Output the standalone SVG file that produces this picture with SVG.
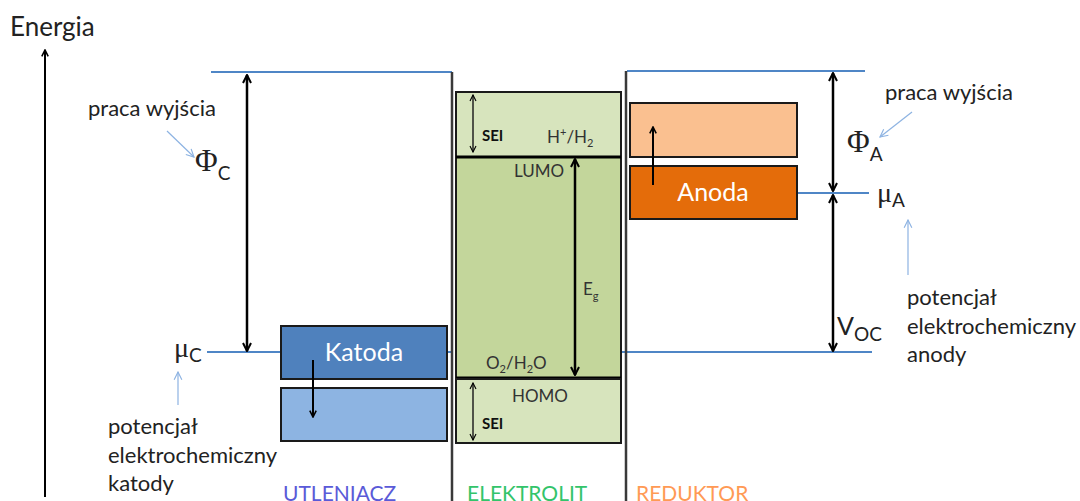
<svg xmlns="http://www.w3.org/2000/svg" width="1080" height="501" viewBox="0 0 1080 501">
<defs>
<marker id="ah" viewBox="0 0 10 10" refX="9" refY="5" markerWidth="4" markerHeight="4" orient="auto-start-reverse" markerUnits="strokeWidth">
<path d="M1,1 L9,5 L1,9" fill="none" stroke="#000" stroke-width="2"/>
</marker>
<marker id="ahs" viewBox="0 0 10 10" refX="9" refY="5" markerWidth="5" markerHeight="5" orient="auto-start-reverse" markerUnits="strokeWidth">
<path d="M1,1 L9,5 L1,9" fill="none" stroke="#000" stroke-width="1.5"/>
</marker>
<marker id="ahb" viewBox="0 0 10 10" refX="9" refY="5" markerWidth="8" markerHeight="8" orient="auto" markerUnits="strokeWidth">
<path d="M1,1 L9,5 L1,9" fill="none" stroke="#8db3e2" stroke-width="1.2"/>
</marker>
</defs>
<style>
.t{font-family:Lato,"Liberation Sans",sans-serif;fill:#222}
.lbl{font-size:22px}
.sm{font-size:17px;fill:#333}
.b{font-weight:bold;font-size:15px}
.sym{font-family:"Liberation Serif",serif;fill:#222}
.box{stroke:#1a1a1a;stroke-width:2}
.lvl{stroke:#4f86c6;stroke-width:2;fill:none}
.sep{stroke:#3a3a3a;stroke-width:2.5;fill:none}
.arr{stroke:#000;stroke-width:2.5;fill:none}
.arrs{stroke:#222;stroke-width:1.5;fill:none}
.barr{stroke:#8db3e2;stroke-width:1.2;fill:none}
.wt{font-family:Lato,"Liberation Sans",sans-serif;fill:#fff;font-size:25px}
.reg{font-family:Lato,"Liberation Sans",sans-serif;font-size:21px}
</style>

<g id="axis">
<line x1="45" y1="497" x2="45" y2="50" class="arr" style="stroke-width:2" marker-end="url(#ah)"/>
<text x="10" y="36" class="t" style="font-size:26px">Energia</text>
</g>

<g id="levels">
<polyline points="211,72 452,72" class="lvl"/>
<polyline points="627,71 865,71" class="lvl"/>
<polyline points="207,352 452,352" class="lvl"/>
<polyline points="622,352 872,352" class="lvl"/>
<polyline points="797,193 869,193" class="lvl"/>
</g>

<g id="separators">
<line x1="452" y1="72" x2="452" y2="501" class="sep"/>
<line x1="626" y1="71" x2="626" y2="501" class="sep"/>
</g>

<g id="katoda">
<rect x="281" y="326" width="166" height="53" fill="#4f81bd" class="box"/>
<text x="364" y="361" text-anchor="middle" class="wt">Katoda</text>
</g>
<g id="katoda-low">
<rect x="281" y="388" width="166" height="53" fill="#8db4e2" class="box"/>
</g>

<g id="sei-top">
<rect x="456" y="92" width="165" height="65" fill="#d7e4bd" class="box"/>
<text x="482" y="141" class="t b" style="fill:#111">SEI</text>
<text x="547" y="143" class="t sm">H<tspan font-size="11" dy="-7">+</tspan><tspan dy="7">/H</tspan><tspan font-size="11" dy="4">2</tspan></text>
</g>
<g id="elektrolit">
<rect x="456" y="157" width="165" height="221" fill="#c3d69b" class="box"/>
<line x1="456" y1="157" x2="621" y2="157" stroke="#000" stroke-width="3"/>
<line x1="456" y1="378" x2="621" y2="378" stroke="#000" stroke-width="3"/>
<text x="514" y="177" class="t sm">LUMO</text>
<text x="583" y="295" class="t sm">E<tspan font-size="11" dy="5">g</tspan></text>
<text x="486" y="369" class="t sm">O<tspan font-size="11" dy="4">2</tspan><tspan dy="-4">/H</tspan><tspan font-size="11" dy="4">2</tspan><tspan dy="-4">O</tspan></text>
</g>
<g id="sei-bottom">
<rect x="456" y="379" width="165" height="64" fill="#d7e4bd" class="box"/>
<text x="512" y="402" class="t sm">HOMO</text>
<text x="482" y="429" class="t b" style="fill:#111">SEI</text>
</g>

<g id="anoda-up">
<rect x="630" y="103" width="167" height="54" fill="#fac090" class="box"/>
</g>
<g id="anoda">
<rect x="630" y="166" width="167" height="53" fill="#e46c0a" class="box"/>
<text x="713" y="201" text-anchor="middle" class="wt">Anoda</text>
</g>

<g id="connectors">
<line x1="247" y1="75" x2="247" y2="351" class="arr" marker-start="url(#ah)" marker-end="url(#ah)"/>
<line x1="833" y1="73" x2="833" y2="191" class="arr" marker-start="url(#ah)" marker-end="url(#ah)"/>
<line x1="833" y1="195" x2="833" y2="351" class="arr" marker-start="url(#ah)" marker-end="url(#ah)"/>
<line x1="575" y1="159" x2="575" y2="375" class="arr" marker-start="url(#ah)" marker-end="url(#ah)"/>
<line x1="473" y1="95" x2="473" y2="152" class="arrs" marker-start="url(#ahs)" marker-end="url(#ahs)"/>
<line x1="473" y1="383" x2="473" y2="440" class="arrs" marker-start="url(#ahs)" marker-end="url(#ahs)"/>
<line x1="313" y1="360" x2="313" y2="417" class="arr" style="stroke-width:2" marker-end="url(#ah)"/>
<line x1="653" y1="185" x2="653" y2="127" class="arr" style="stroke-width:2" marker-end="url(#ah)"/>
<line x1="167" y1="131" x2="194" y2="157" class="barr" marker-end="url(#ahb)"/>
<line x1="912" y1="112" x2="880" y2="137" class="barr" marker-end="url(#ahb)"/>
<line x1="178" y1="405" x2="178" y2="372" class="barr" marker-end="url(#ahb)"/>
<line x1="908" y1="275" x2="908" y2="220" class="barr" marker-end="url(#ahb)"/>
</g>

<g id="labels-left">
<text x="88" y="116" class="t lbl">praca wyjścia</text>
<text x="195" y="171" class="sym" style="font-size:31px">Φ<tspan class="t" style="font-size:19px" dy="9">C</tspan></text>
<text x="174" y="357" class="sym" style="font-size:28px">μ<tspan class="t" style="font-size:19px" dy="5">C</tspan></text>
<text class="t lbl"><tspan x="108" y="434">potencjał</tspan><tspan x="108" y="463">elektrochemiczny</tspan><tspan x="108" y="491">katody</tspan></text>
</g>

<g id="labels-right">
<text x="885" y="100" class="t lbl">praca wyjścia</text>
<text x="847" y="152" class="sym" style="font-size:31px">Φ<tspan class="t" style="font-size:19px" dy="9">A</tspan></text>
<text x="877" y="202" class="sym" style="font-size:28px">μ<tspan class="t" style="font-size:19px" dy="5">A</tspan></text>
<text x="837" y="335" class="t" style="font-size:25px">V<tspan style="font-size:19px" dy="6">OC</tspan></text>
<text class="t lbl"><tspan x="907" y="305">potencjał</tspan><tspan x="907" y="334">elektrochemiczny</tspan><tspan x="907" y="362">anody</tspan></text>
</g>

<g id="regions">
<text x="283" y="501" class="reg" style="fill:#5a5ad8">UTLENIACZ</text>
<text x="467" y="501" class="reg" style="fill:#33c46a">ELEKTROLIT</text>
<text x="636" y="501" class="reg" style="fill:#ff9a55">REDUKTOR</text>
</g>
</svg>
